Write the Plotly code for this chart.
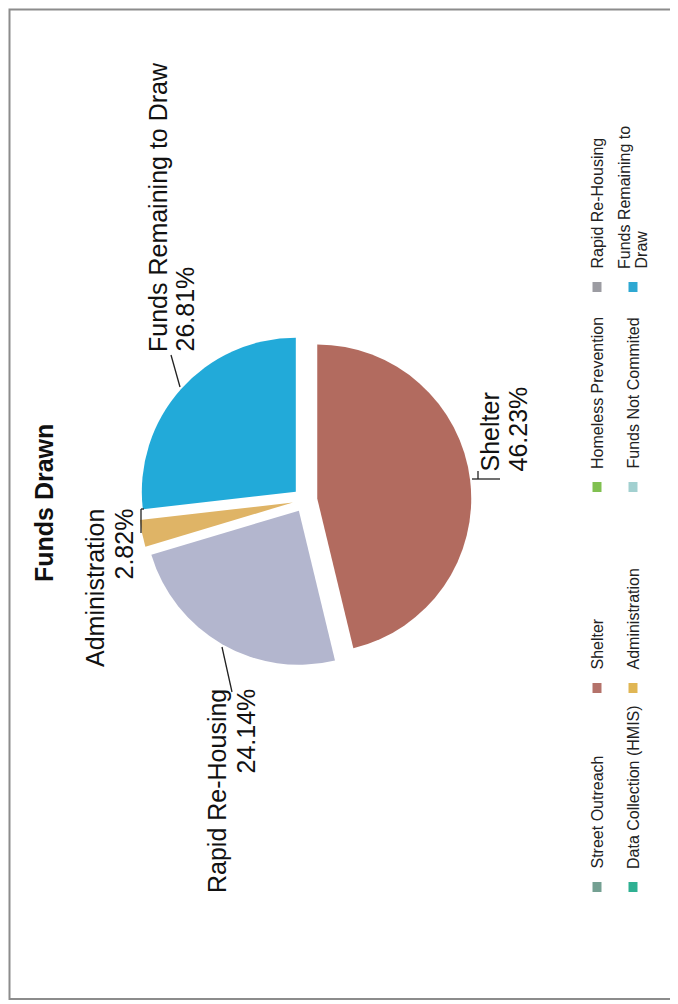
import plotly.graph_objects as go

OFF = 8  # page body margin of the browser
W, H = 678 - OFF, 1004 - OFF

# ---------------- data ----------------
title_text = "Funds Drawn"
categories = ["Street Outreach", "Shelter", "Homeless Prevention", "Rapid Re-Housing",
              "Data Collection (HMIS)", "Administration", "Funds Not Commited",
              "Funds Remaining to Draw"]
percent = [0.0, 46.23, 0.0, 24.14, 0.0, 2.82, 0.0, 26.81]
legend_colors = ["#74a092", "#b4726a", "#80c050", "#9c9ca2",
                 "#2fb092", "#e0b654", "#a2d0d0", "#2ea8d2"]
slice_colors = {"Shelter": "#b26b5f", "Rapid Re-Housing": "#b3b6ce",
                "Administration": "#dfb466", "Funds Remaining to Draw": "#22aad9"}
# slices drawn clockwise in this order
slice_order = ["Shelter", "Rapid Re-Housing", "Administration", "Funds Remaining to Draw"]

FONT = "Liberation Sans, Arial, sans-serif"


def px(x):
    return (x - OFF) / W


def py(y):
    return 1 - (y - OFF) / H


vals = [percent[categories.index(c)] for c in slice_order]
cols = [slice_colors[c] for c in slice_order]

# pie geometry (screen px)
cx, cy, r, pull = 305, 500, 154, 0.08
half = r * (1 + pull)

fig = go.Figure()
fig.add_trace(go.Pie(
    labels=slice_order, values=vals, sort=False, direction="clockwise", rotation=0,
    pull=pull, marker=dict(colors=cols, line=dict(width=0)),
    textinfo="none", showlegend=False, hoverinfo="label+percent",
    domain=dict(x=[px(cx - half), px(cx + half)], y=[py(cy + half), py(cy - half)]),
))

ann = []
shapes = []


def rtext(text, x, y, size, anchor, bold=False, color="#111"):
    ann.append(dict(text=("<b>%s</b>" % text) if bold else text, x=px(x), y=py(y),
                    xref="paper", yref="paper", showarrow=False, textangle=-90,
                    xanchor="center", yanchor=anchor,
                    font=dict(family=FONT, size=size, color=color)))


# title
rtext(title_text, 44, 503, 25, "middle", bold=True)


def pct(name):
    return "%.2f%%" % percent[categories.index(name)]


LS = 25  # label font size
# slice labels  (start-aligned -> yanchor bottom ; end-aligned -> yanchor top)
rtext("Funds Remaining to Draw", 158, 354, LS, "bottom")
rtext(pct("Funds Remaining to Draw"), 184, 354, LS, "bottom")
rtext("Shelter", 489, 474, LS, "bottom")
rtext(pct("Shelter"), 517, 474, LS, "bottom")
rtext("Administration", 95, 507, LS, "top")
rtext(pct("Administration"), 123, 507, LS, "top")
rtext("Rapid Re-Housing", 217, 687, LS, "top")
rtext(pct("Rapid Re-Housing"), 245, 687, LS, "top")


def seg(x0, y0, x1, y1, color="#222", w=1.3):
    shapes.append(dict(type="line", xref="paper", yref="paper",
                       x0=px(x0), y0=py(y0), x1=px(x1), y1=py(y1),
                       line=dict(color=color, width=w)))


# leader lines
seg(171, 355, 180, 387)
seg(472, 479, 500, 479)
seg(478, 471, 478, 479)
seg(141, 509, 141, 533)
seg(141, 509, 144, 509)
seg(222, 647, 232, 692)

# custom rotated legend
leg_pos = {
    "Street Outreach": (597, 887), "Shelter": (597, 688),
    "Homeless Prevention": (597, 487), "Rapid Re-Housing": (597, 287),
    "Data Collection (HMIS)": (633, 887), "Administration": (633, 688),
    "Funds Not Commited": (633, 487), "Funds Remaining to Draw": (633, 287),
}
LG = 16
for name, col in zip(categories, legend_colors):
    x, y = leg_pos[name]
    shapes.append(dict(type="rect", xref="paper", yref="paper",
                       x0=px(x - 4.5), x1=px(x + 4.5), y0=py(y - 5), y1=py(y + 5),
                       fillcolor=col, line=dict(width=0)))
    if name == "Funds Remaining to Draw":
        rtext("Funds Remaining to", x - 8.5, y - 16, LG, "bottom", color="#222")
        rtext("Draw", x + 8.5, y - 16, LG, "bottom", color="#222")
    else:
        rtext(name, x, y - 16, LG, "bottom", color="#222")

# frame
shapes.append(dict(type="rect", xref="paper", yref="paper",
                   x0=px(9.5), x1=px(672), y0=py(999), y1=py(9.5),
                   line=dict(color="#8c8c8c", width=2), fillcolor="rgba(0,0,0,0)"))

fig.update_layout(width=W, height=H, margin=dict(l=0, r=0, t=0, b=0),
                  paper_bgcolor="white", plot_bgcolor="white",
                  annotations=ann, shapes=shapes, showlegend=False)

fig.write_html("out.html")
